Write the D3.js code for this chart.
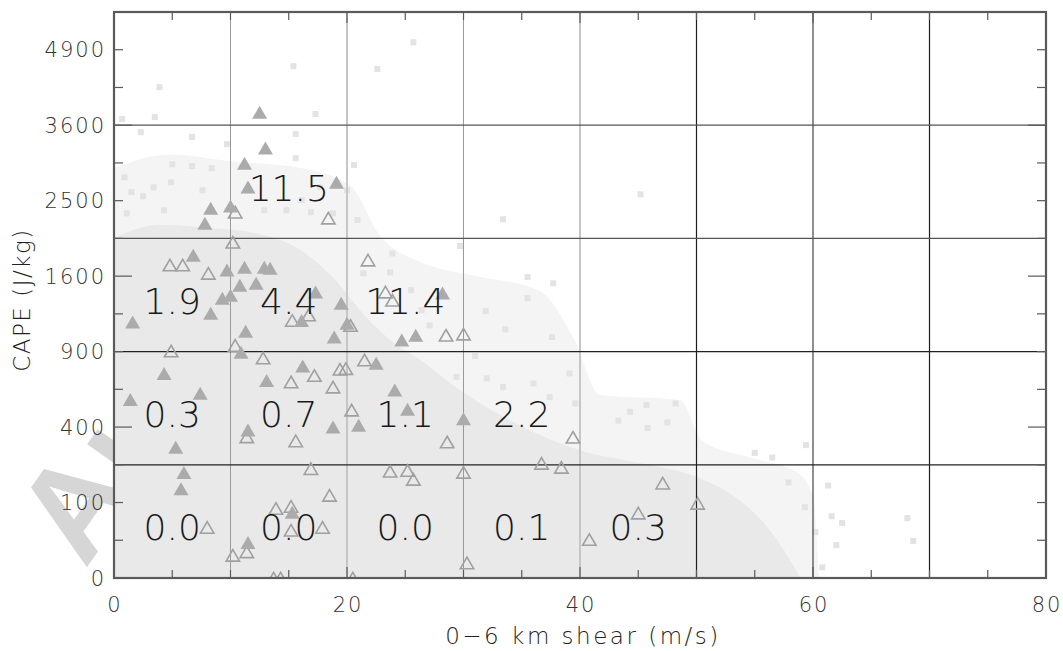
<!DOCTYPE html>
<html>
<head>
<meta charset="utf-8">
<script src="https://cdn.jsdelivr.net/npm/d3@7"></script>
<style>
  html, body { margin: 0; padding: 0; background: #fff; }
  svg { display: block; }
  text { font-family: "DejaVu Sans", sans-serif; font-weight: 200; }
</style>
</head>
<body>
<svg id="chart" width="1063" height="651"></svg>
<script>

// axis ticks
const xLabels = [0, 20, 40, 60, 80]
const xMinor = [5, 10, 15, 25, 30, 35, 45, 50, 55, 65, 70, 75]
const yLabels = [0, 100, 400, 900, 1600, 2500, 3600, 4900]
const yMajor = [0, 400, 1600, 3600]
const yMinor = [25, 100, 225, 625, 900, 1225, 2025, 2500, 3025, 4225, 4900]

// grid cells (shear m/s, CAPE J/kg)
const shearBins = [0, 10, 20, 30, 40, 50, 60, 70, 80]
const capeBins = [0, 225, 900, 2025, 3600]
const cellRow0 = [0.0, 0.0, 0.0, 0.1, 0.3]
const cellRow1 = [0.3, 0.7, 1.1, 2.2]
const cellRow2 = [1.9, 4.4, 11.4]
const cellRow3 = [null, 11.5]

// all soundings: dense core and sparse halo outlines, then isolated points
const denseEdge = [[0, 2030], [3.9, 2190], [8.2, 2150], [11.7, 2100], [16.0, 1890], [19.4, 1505], [21.1, 1260],
  [23.7, 995], [26.3, 835], [29.7, 620], [34.8, 410], [40.0, 287], [45.2, 231], [50.3, 175], [53.7, 106],
  [56.3, 40], [58.0, 6], [58.9, 0]]
const haloEdge = [[0, 2950], [4.8, 3150], [10.0, 3050], [16.0, 2950], [20.3, 2700], [22.8, 2064], [26.3, 1752],
  [30.6, 1611], [36.5, 1450], [39.5, 1000], [41.7, 588], [48.6, 556], [50.5, 330], [55.0, 250], [58.5, 200],
  [60.0, 120], [60.5, 0]]
const sparsePoints = [[3.9, 4230], [0.7, 3700], [3.5, 3730], [15.4, 4600], [17.3, 3780], [25.7, 5040], [22.6, 4550],
  [6.7, 3415], [2.3, 3490], [15.6, 3460], [9.7, 3305], [5.0, 3005], [6.7, 2980], [15.6, 3095], [20.6, 2995],
  [1.5, 2615], [4.9, 2750], [8.4, 2950], [3.4, 2680], [7.6, 2640], [2.5, 2560], [17.7, 2680], [20.0, 2640],
  [16.1, 2505], [14.8, 2375], [16.9, 2350], [20.9, 2250], [18.8, 2335], [12.9, 2375], [4.3, 2375], [1.1, 2335],
  [0.9, 2820], [23.9, 1850], [25.5, 1455], [21.4, 1630], [23.7, 1640], [29.7, 1935], [27.1, 1120], [26.4, 1260],
  [31.9, 1250], [33.6, 1085], [35.5, 1590], [37.7, 1525], [35.5, 1375], [37.6, 1020], [31.0, 865], [29.4, 710],
  [32.0, 700], [33.4, 640], [39.1, 735], [36.0, 665], [37.4, 575], [39.6, 535], [45.2, 2585], [33.4, 2260],
  [44.3, 485], [45.7, 525], [48.2, 535], [43.3, 435], [45.8, 395], [47.5, 425], [59.4, 310], [55.0, 275],
  [56.5, 255], [57.9, 160], [61.3, 150], [59.3, 88], [61.6, 67], [62.5, 53], [68.1, 63], [68.6, 24], [62.0, 19],
  [60.2, 37], [60.8, 2]]

// filled and open triangles
const filledTri = [[12.5, 3810], [13.0, 3245], [11.2, 3020], [11.5, 2685], [19.1, 2750], [8.3, 2400], [10.0, 2430],
  [7.8, 2210], [6.8, 1830], [9.7, 1665], [11.2, 1695], [12.9, 1695], [13.4, 1685], [10.8, 1505], [12.2, 1525],
  [9.3, 1375], [10.0, 1405], [8.3, 1230], [1.6, 1150], [11.3, 1070], [17.3, 1435], [19.5, 1325], [16.1, 1165],
  [20.0, 1140], [18.9, 1020], [28.2, 1425], [24.7, 995], [25.9, 1035], [22.5, 810], [24.1, 620], [25.2, 500],
  [30.0, 445], [21.0, 410], [18.8, 400], [4.3, 735], [1.4, 560], [7.4, 600], [10.9, 895], [13.1, 685],
  [16.2, 790], [11.5, 385], [5.3, 300], [6.0, 195], [5.75, 140], [15.3, 76], [11.5, 22]]
const openTri = [[4.8, 1720], [5.9, 1720], [8.1, 1630], [10.2, 1980], [18.4, 2275], [10.4, 2350], [15.3, 1165],
  [16.7, 1215], [20.3, 1120], [21.8, 1775], [23.3, 1435], [23.9, 1355], [28.5, 1035], [30.0, 1045], [21.5, 835],
  [19.4, 765], [19.9, 770], [18.8, 640], [20.4, 495], [4.9, 905], [10.4, 950], [12.8, 850], [15.2, 675],
  [17.2, 720], [11.4, 350], [15.6, 330], [16.9, 210], [18.5, 120], [8.0, 45], [13.9, 85], [15.2, 90], [15.2, 40],
  [17.9, 45], [10.2, 9], [11.4, 12], [13.7, 0], [14.3, 0], [20.5, 0], [28.6, 325], [23.7, 200], [25.2, 203],
  [25.7, 171], [30.0, 196], [36.7, 231], [38.4, 215], [39.4, 348], [47.1, 158], [50.1, 98], [45.0, 74],
  [40.8, 26], [30.3, 4]]

const svg = d3.select('#chart')

const box = { left: 114, right: 1046, top: 12, bottom: 578 }

const x = d3.scaleLinear().domain([0, 80]).range([box.left, box.right])
const y = d3.scaleSqrt().domain([0, 5625]).range([box.bottom, box.top])

// watermark: only its first letters show beside the figure
svg.append('text')
  .attr('transform', 'translate(85,570) rotate(-55)')
  .style('font-family', '"Liberation Sans", Arial, sans-serif')
  .style('font-weight', 700)
  .style('font-size', '133px')
  .attr('fill', '#d6d6d6')
  .text('Au')

svg.append('rect')
  .attr('x', box.left).attr('y', 0)
  .attr('width', 1063 - box.left).attr('height', 651)
  .attr('fill', '#fff')

svg.append('clipPath').attr('id', 'plotclip')
  .append('rect')
  .attr('x', box.left).attr('y', box.top)
  .attr('width', box.right - box.left).attr('height', box.bottom - box.top)

const plot = svg.append('g').attr('clip-path', 'url(#plotclip)')

const area = d3.area()
  .x(d => x(d[0]))
  .y0(y(0))
  .y1(d => y(d[1]))
  .curve(d3.curveMonotoneX)

plot.append('path').datum(haloEdge)
  .attr('d', area)
  .attr('fill', '#f4f4f4')

plot.append('path').datum(denseEdge)
  .attr('d', area)
  .attr('fill', '#e9e9e9')

plot.selectAll('rect.pt').data(sparsePoints).enter()
  .append('rect')
  .attr('class', 'pt')
  .attr('x', d => x(d[0]) - 3)
  .attr('y', d => y(d[1]) - 3)
  .attr('width', 6)
  .attr('height', 6)
  .attr('fill', '#e3e3e3')

// grid lines
const vGrid = [
  { v: 10, c: '#9a9a9a', w: 1 }, { v: 20, c: '#c6c6c6', w: 2 },
  { v: 30, c: '#9a9a9a', w: 1 }, { v: 40, c: '#c6c6c6', w: 2 },
  { v: 50, c: '#1e1e1e', w: 1.2 }, { v: 60, c: '#444', w: 1.2 }, { v: 70, c: '#1e1e1e', w: 1.2 }
]
plot.selectAll('line.vg').data(vGrid).enter()
  .append('line')
  .attr('x1', d => x(d.v)).attr('x2', d => x(d.v))
  .attr('y1', box.top).attr('y2', box.bottom)
  .attr('stroke', d => d.c)
  .attr('stroke-width', d => d.w)

plot.selectAll('line.hg').data(capeBins.slice(1)).enter()
  .append('line')
  .attr('x1', box.left).attr('x2', box.right)
  .attr('y1', d => y(d)).attr('y2', d => y(d))
  .attr('stroke', d => d >= 2025 ? '#555' : '#222')
  .attr('stroke-width', 1.3)

// triangles
const tri = 'M0,-6.5L7.5,6.5L-7.5,6.5Z'
const triOpen = 'M0,-5.7L6.7,5.8L-6.7,5.8Z'

plot.selectAll('path.ot').data(openTri).enter()
  .append('path')
  .attr('d', triOpen)
  .attr('transform', d => `translate(${x(d[0])},${y(d[1])})`)
  .attr('fill', 'none')
  .attr('stroke', '#a0a0a0')
  .attr('stroke-width', 1.6)

plot.selectAll('path.ft').data(filledTri).enter()
  .append('path')
  .attr('d', tri)
  .attr('transform', d => `translate(${x(d[0])},${y(d[1])})`)
  .attr('fill', '#ababab')

// cell numbers
const cellRows = [cellRow0, cellRow1, cellRow2, cellRow3]
cellRows.forEach((row, r) => {
  const yc = (y(capeBins[r]) + y(capeBins[r + 1])) / 2 + 19
  row.forEach((v, i) => {
    if (v === null) return
    svg.append('text')
      .attr('x', x((shearBins[i] + shearBins[i + 1]) / 2))
      .attr('y', yc)
      .attr('text-anchor', 'middle')
      .style('font-size', '36px')
      .attr('fill', '#1a1a1a')
      .text(v.toFixed(1))
  })
})

// frame and ticks
const frame = svg.append('g').attr('stroke', '#5a5a5a').attr('fill', 'none')

frame.append('rect')
  .attr('x', box.left).attr('y', box.top)
  .attr('width', box.right - box.left).attr('height', box.bottom - box.top)
  .attr('stroke-width', 2.2)

const xTickMarks = xLabels.map(v => ({ v, len: 11 })).concat(xMinor.map(v => ({ v, len: 8 })))
xTickMarks.forEach(t => {
  frame.append('line')
    .attr('x1', x(t.v)).attr('x2', x(t.v))
    .attr('y1', box.bottom).attr('y2', box.bottom - t.len)
    .attr('stroke-width', 1.2)
  frame.append('line')
    .attr('x1', x(t.v)).attr('x2', x(t.v))
    .attr('y1', box.top).attr('y2', box.top + t.len)
    .attr('stroke-width', 1.2)
})

const yTickMarks = yMajor.map(v => ({ v, len: 18 })).concat(yMinor.map(v => ({ v, len: 9 })))
yTickMarks.forEach(t => {
  frame.append('line')
    .attr('x1', box.left).attr('x2', box.left + t.len)
    .attr('y1', y(t.v)).attr('y2', y(t.v))
    .attr('stroke-width', 1.2)
  frame.append('line')
    .attr('x1', box.right).attr('x2', box.right - t.len)
    .attr('y1', y(t.v)).attr('y2', y(t.v))
    .attr('stroke-width', 1.2)
})

// tick labels
svg.selectAll('text.yl').data(yLabels).enter()
  .append('text')
  .attr('x', 106)
  .attr('y', d => y(d) + 7.5)
  .attr('text-anchor', 'end')
  .style('font-size', '21px')
  .style('letter-spacing', '2px')
  .attr('fill', '#333')
  .text(d => d)

svg.selectAll('text.xl').data(xLabels).enter()
  .append('text')
  .attr('x', d => x(d) + 1)
  .attr('y', 612)
  .attr('text-anchor', 'middle')
  .style('font-size', '21px')
  .style('letter-spacing', '2px')
  .attr('fill', '#333')
  .text(d => d)

// axis titles
svg.append('text')
  .attr('x', 583).attr('y', 644)
  .attr('text-anchor', 'middle')
  .style('font-size', '23px')
  .style('letter-spacing', '2.5px')
  .attr('fill', '#222')
  .text('0\u22126 km shear (m/s)')

svg.append('text')
  .attr('transform', 'translate(29.5,300) rotate(-90)')
  .attr('text-anchor', 'middle')
  .style('font-size', '23px')
  .style('letter-spacing', '1.5px')
  .attr('fill', '#222')
  .text('CAPE (J/kg)')

</script>
</body>
</html>
